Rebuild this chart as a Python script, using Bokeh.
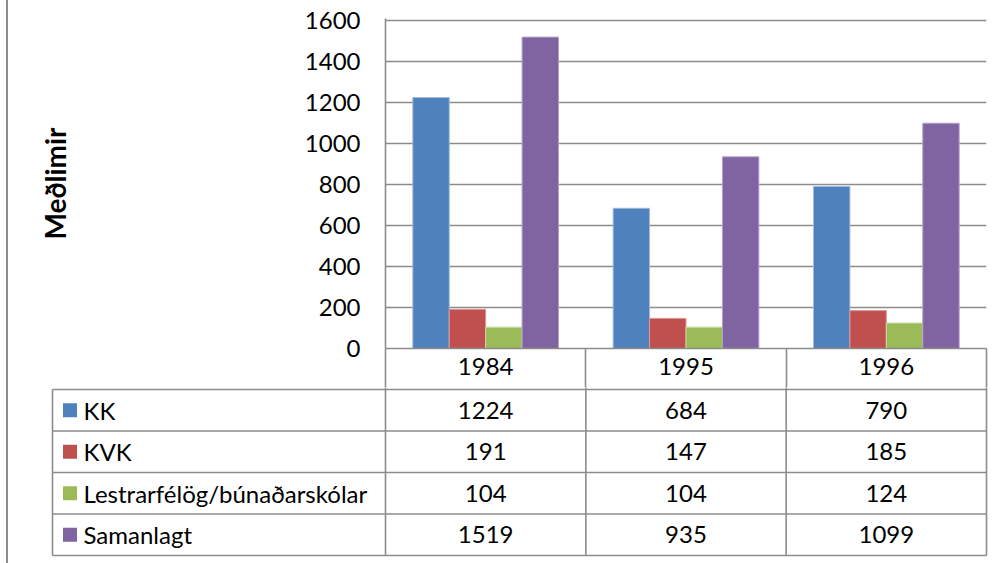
from bokeh.plotting import figure
from bokeh.layouts import column
from bokeh.models import Range1d, FixedTicker, ColumnDataSource
from bokeh.transform import dodge
from bokeh.core.properties import value
from bokeh.embed import file_html
from bokeh.resources import INLINE

# ---------------- data ----------------
years = ["1984", "1995", "1996"]
series = ["KK", "KVK", "Lestrarfélög/búnaðarskólar", "Samanlagt"]
kk = [1224, 684, 790]
kvk = [191, 147, 185]
lestrar = [104, 104, 124]
samanlagt = [1519, 935, 1099]
y_ticks = [0, 200, 400, 600, 800, 1000, 1200, 1400, 1600]
y_max = 1600
y_title = "Meðlimir"

# ---------------- style ----------------
colors = ["#4F81BD", "#C0504D", "#9BBB59", "#8064A2"]
edge = ["#9dbbe0", "#dc9a98", "#c6dca0", "#b3a2cb"]
FONT = "Lato"
FS = "24px"
GRID = "#8c8c8c"
LW = 1.6
COL_PX = 601 / 3.0      # pixel width of one category column
ROW_PX = 41.5           # pixel height of one table row
LABEL_PX = 333          # width of the table's label column

values_all = [kk, kvk, lestrar, samanlagt]
keys = ["kk", "kvk", "lestrar", "samanlagt"]
n = len(years)
centers = [i + 0.5 for i in range(n)]

# ---------------- chart ----------------
pad_y = 2 * y_max / 328.0
top = figure(width=990, height=387, x_range=Range1d(0, n),
             y_range=Range1d(0, y_max + pad_y),
             output_backend="svg", toolbar_location=None, title=None,
             min_border_left=377, min_border_right=12,
             min_border_top=18, min_border_bottom=39,
             frame_align=False,
             outline_line_color=None, background_fill_color="white",
             border_fill_color="white")

src = ColumnDataSource(dict(x=centers, kk=kk, kvk=kvk, lestrar=lestrar,
                            samanlagt=samanlagt))
bw = 1 / 5.5
for i, k in enumerate(keys):
    top.vbar(x=dodge("x", (i - 1.5) * bw), top=k, bottom=0, width=bw,
             source=src, fill_color=colors[i], line_color=edge[i],
             line_width=1)

top.xgrid.visible = False
top.ygrid.grid_line_color = GRID
top.ygrid.grid_line_width = LW

ya = top.yaxis[0]
ya.ticker = FixedTicker(ticks=y_ticks, minor_ticks=[])
ya.axis_line_color = GRID
ya.axis_line_width = LW
ya.major_tick_out = 0
ya.major_tick_in = 0
ya.minor_tick_out = 0
ya.minor_tick_in = 0
ya.major_label_standoff = 25
ya.major_label_text_font = FONT
ya.major_label_text_font_size = FS
ya.major_label_text_color = "black"
ya.axis_label = y_title
ya.axis_label_text_font = FONT
ya.axis_label_text_font_size = "28px"
ya.axis_label_text_font_style = "bold"
ya.axis_label_text_color = "black"
ya.axis_label_standoff = 230

xa = top.xaxis[0]
xa.ticker = FixedTicker(ticks=centers, minor_ticks=list(range(n + 1)))
xa.major_label_overrides = {c: y for c, y in zip(centers, years)}
xa.axis_line_color = GRID
xa.axis_line_width = LW
xa.major_tick_out = 0
xa.major_tick_in = 0
xa.minor_tick_in = 0
xa.minor_tick_out = 41
xa.minor_tick_line_color = GRID
xa.minor_tick_line_width = LW
xa.major_label_standoff = -32
xa.major_label_text_font = FONT
xa.major_label_text_font_size = FS
xa.major_label_text_color = "black"

# ---------------- data table ----------------
xL = -LABEL_PX / COL_PX
bot = figure(width=990, height=170,
             x_range=Range1d(-(LABEL_PX + 2) / COL_PX, n + 2 / COL_PX),
             y_range=Range1d(len(series) + 2 / ROW_PX, -2 / ROW_PX),
             x_axis_location=None, y_axis_location=None,
             output_backend="svg", toolbar_location=None, title=None,
             min_border_left=42, min_border_right=10,
             min_border_top=0, min_border_bottom=0,
             frame_align=False,
             outline_line_color=None, background_fill_color="white",
             border_fill_color="white")
bot.grid.visible = False

rows = list(range(len(series) + 1))
bot.segment(x0=[xL] * len(rows), x1=[n] * len(rows), y0=rows, y1=rows,
            line_color=GRID, line_width=LW)
vx = [xL] + list(range(n + 1))
vy0 = [0] + [-0.2] * (n + 1)
bot.segment(x0=vx, x1=vx, y0=vy0, y1=[len(series)] * len(vx),
            line_color=GRID, line_width=LW)

row_c = [r + 0.5 for r in range(len(series))]
bot.scatter(x=[xL + 17.5 / COL_PX] * len(series), y=row_c, marker="square",
            size=14, fill_color=colors, line_color=None)
bot.text(x=[xL + 31 / COL_PX] * len(series), y=row_c, text=series,
         text_font=value(FONT), text_font_size=FS, text_color="black",
         text_align="left", text_baseline="middle")

tx, ty, tt = [], [], []
for r, vals in enumerate(values_all):
    for c, v in enumerate(vals):
        tx.append(c + 0.5)
        ty.append(r + 0.5)
        tt.append(str(v))
bot.text(x=tx, y=ty, text=tt, text_font=value(FONT), text_font_size=FS,
         text_color="black", text_align="center", text_baseline="middle")

layout = column(top, bot, spacing=0,
                styles={"margin-left": "6px",
                        "border-left": f"2px solid {GRID}",
                        "padding-bottom": "6px"})

open("out.html", "w").write(file_html(layout, INLINE))
